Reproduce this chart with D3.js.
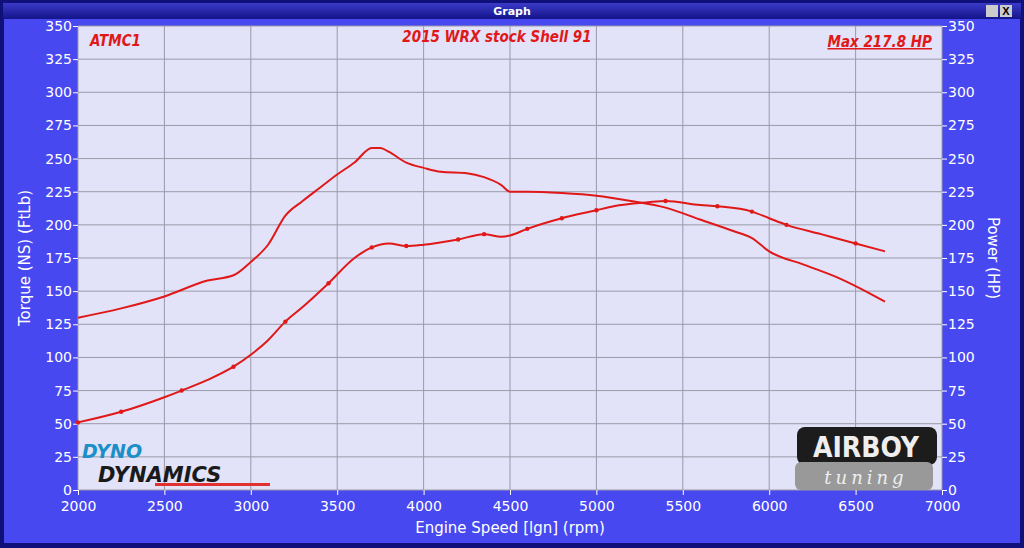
<!DOCTYPE html>
<html><head><meta charset="utf-8">
<script src="https://cdn.jsdelivr.net/npm/d3@7"></script>
<style>body{margin:0;background:#1a1a8a;overflow:hidden}</style>
</head><body>
<script>
const rpmT = [2000,2250,2500,2750,2900,3000,3100,3200,3300,3400,3500,3600,3700,3750,3800,3900,4000,4100,4250,4350,4450,4500,4600,4800,5000,5200,5400,5600,5800,5900,6000,6200,6400,6600,6670];
const torque = [130,137,146,158,162,172,185,207,218,228,238,247,258,258,255,247,243,240,239,236,230,225,225,224,222,218,213,204,195,190,180,170,160,147,142];
const rpmP = [2000,2250,2500,2600,2750,2900,3000,3100,3200,3300,3450,3600,3700,3800,3900,4000,4200,4350,4450,4500,4600,4800,5000,5100,5300,5400,5600,5700,5900,6000,6100,6300,6500,6670];
const power = [51,59,70,75,83,93,102,113,127,138,156,175,183,186,184,185,189,193,191,192,197,205,211,214,217,218,215,214,210,205,200,193,186,180];
const powerDots = [2000,2250,2600,2900,3200,3450,3700,3900,4200,4350,4600,4800,5000,5400,5700,5900,6100,6500];
const xTicks = d3.range(2000,7001,500);
const yTicks = d3.range(0,351,25);

const W = 1024, H = 548;
const m = {left:78, right:82, top:26, bottom:58};
const svg = d3.select("body").append("svg").attr("width",W).attr("height",H);

const defs = svg.append("defs");
const tg = defs.append("linearGradient").attr("id","tb").attr("x2",0).attr("y2",1);
tg.append("stop").attr("offset",0).attr("stop-color","#3a3ac8");
tg.append("stop").attr("offset",1).attr("stop-color","#14148a");

svg.append("rect").attr("width",W).attr("height",H).attr("fill","#10107a");
svg.append("rect").attr("x",3).attr("y",3).attr("width",W-6).attr("height",16).attr("fill","url(#tb)");
svg.append("text").attr("x",W/2).attr("y",15).attr("text-anchor","middle")
  .style("font","bold 11px 'DejaVu Sans'").attr("fill","#fff").text("Graph");
svg.append("rect").attr("x",986).attr("y",5).attr("width",12).attr("height",12).attr("fill","#ccc");
svg.append("rect").attr("x",1000).attr("y",5).attr("width",12).attr("height",12).attr("fill","#ccc");
svg.append("text").attr("x",1006).attr("y",15).attr("text-anchor","middle").style("font","bold 11px sans-serif").text("X");
svg.append("rect").attr("x",4).attr("y",19).attr("width",W-8).attr("height",H-24).attr("fill","#4848f0");

const x = d3.scaleLinear().domain([2000,7000]).range([m.left, W-m.right]);
const y = d3.scaleLinear().domain([0,350]).range([H-m.bottom, m.top]);

svg.append("rect").attr("x",x(2000)).attr("y",y(350)).attr("width",x(7000)-x(2000)).attr("height",y(0)-y(350)).attr("fill","#e2e2f8");

svg.append("g").selectAll("line").data(xTicks).join("line")
  .attr("x1",d=>x(d)).attr("x2",d=>x(d)).attr("y1",y(0)).attr("y2",y(350)).attr("stroke","#9a9aa8").attr("stroke-width",1);
svg.append("g").selectAll("line").data(yTicks).join("line")
  .attr("x1",x(2000)).attr("x2",x(7000)).attr("y1",d=>y(d)).attr("y2",d=>y(d)).attr("stroke","#9a9aa8").attr("stroke-width",1);

function styleAxis(g){
  g.select(".domain").remove();
  g.selectAll(".tick line").attr("stroke","#fff");
  g.selectAll(".tick text").attr("fill","#fff").style("font","14px 'DejaVu Sans'");
}
svg.append("g").attr("transform",`translate(0,${y(0)})`)
  .call(d3.axisBottom(x).tickValues(xTicks).tickFormat(d3.format("d")).tickSize(5).tickPadding(6)).call(styleAxis);
svg.append("g").attr("transform",`translate(${x(2000)},0)`)
  .call(d3.axisLeft(y).tickValues(yTicks).tickSize(5).tickPadding(1)).call(styleAxis);
svg.append("g").attr("transform",`translate(${x(7000)},0)`)
  .call(d3.axisRight(y).tickValues(yTicks).tickSize(5).tickPadding(1)).call(styleAxis);

svg.append("text").attr("x",(x(2000)+x(7000))/2).attr("y",533).attr("text-anchor","middle")
  .attr("fill","#fff").style("font","15px 'DejaVu Sans'").text("Engine Speed [lgn] (rpm)");
svg.append("text").attr("transform",`translate(30,${y(175)}) rotate(-90)`).attr("text-anchor","middle")
  .attr("fill","#fff").style("font","15px 'DejaVu Sans'").text("Torque (NS) (FtLb)");
svg.append("text").attr("transform",`translate(988,${y(175)}) rotate(90)`).attr("text-anchor","middle")
  .attr("fill","#fff").style("font","15px 'DejaVu Sans'").text("Power (HP)");

const lineT = d3.line().x((d,i)=>x(rpmT[i])).y(d=>y(d)).curve(d3.curveMonotoneX);
const lineP = d3.line().x((d,i)=>x(rpmP[i])).y(d=>y(d)).curve(d3.curveMonotoneX);
svg.append("path").datum(torque).attr("d",lineT).attr("fill","none").attr("stroke","#e01818").attr("stroke-width",2);
svg.append("path").datum(power).attr("d",lineP).attr("fill","none").attr("stroke","#e01818").attr("stroke-width",2);
svg.append("g").selectAll("circle").data(powerDots).join("circle")
  .attr("cx",d=>x(d)).attr("cy",d=>y(power[rpmP.indexOf(d)])).attr("r",2.2).attr("fill","#e01818");

const tf = "italic bold 15px 'Liberation Sans Narrow','DejaVu Sans Condensed',sans-serif";
svg.append("text").attr("x",90).attr("y",46).attr("fill","#e01818").style("font",tf).text("ATMC1");
svg.append("text").attr("x",497).attr("y",42).attr("text-anchor","middle").attr("fill","#e01818").style("font",tf).text("2015 WRX stock Shell 91");
svg.append("text").attr("x",932).attr("y",47).attr("text-anchor","end").attr("fill","#e01818")
  .style("font",tf).attr("text-decoration","underline").text("Max 217.8 HP");

// logos
svg.append("text").attr("x",82).attr("y",458).attr("fill","#1a8fc8").style("font","italic 900 19px 'DejaVu Sans'").text("DYNO");
svg.append("text").attr("x",98).attr("y",482).attr("fill","#1a1a1a").style("font","italic 900 21px 'DejaVu Sans'").text("DYNAMICS");
svg.append("rect").attr("x",155).attr("y",483).attr("width",115).attr("height",3).attr("fill","#e03030");
svg.append("rect").attr("x",797).attr("y",427).attr("width",140).attr("height",38).attr("rx",8).attr("fill","#1c1c1c");
svg.append("rect").attr("x",795).attr("y",462).attr("width",138).attr("height",28).attr("rx",6).attr("fill","#999");
svg.append("text").attr("x",866).attr("y",457).attr("text-anchor","middle").attr("fill","#eee").style("font","bold 28px 'DejaVu Sans Condensed'").text("AIRBOY");
svg.append("text").attr("x",866).attr("y",484).attr("text-anchor","middle").attr("fill","#eee").style("font","italic 18px 'DejaVu Serif'").attr("letter-spacing",4).text("tuning");
</script>
</body></html>
